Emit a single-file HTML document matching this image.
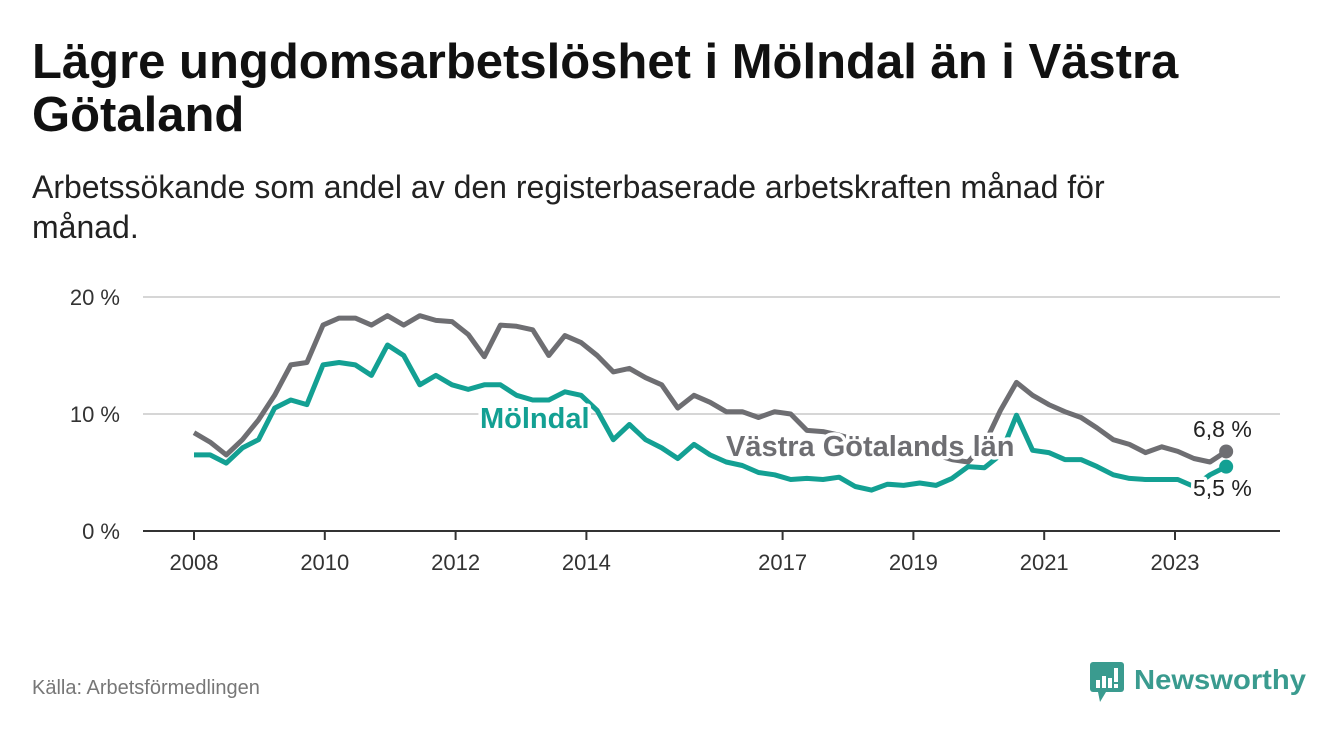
<!DOCTYPE html>
<html><head><meta charset="utf-8"><style>
body{margin:0;background:#fff;font-family:"Liberation Sans",sans-serif;}
#wrap{position:relative;width:1340px;height:734px;overflow:hidden;}
h1{position:absolute;left:32px;top:36px;margin:0;font-size:49px;line-height:53px;font-weight:bold;color:#111;width:1220px;}
.sub{position:absolute;left:32px;top:167px;font-size:32px;line-height:40px;color:#222;width:1170px;}
.src{position:absolute;left:32px;top:677px;font-size:20px;color:#777;}
.logo{position:absolute;left:1088px;top:660px;}
</style></head><body><div id="wrap">
<h1>Lägre ungdomsarbetslöshet i Mölndal än i Västra Götaland</h1>
<div class="sub">Arbetssökande som andel av den registerbaserade arbetskraften månad för månad.</div>
<svg id="chart" width="1340" height="734" style="position:absolute;left:0;top:0"></svg>
<div class="src">Källa: Arbetsförmedlingen</div>
<div class="logo">
<svg width="240" height="46"><rect x="2" y="2" width="34" height="30" rx="3" fill="#3a9b8f"/><polygon points="10,32 18,32 12,42" fill="#3a9b8f"/>
<rect x="8" y="20" width="4" height="8" fill="#fff"/><rect x="14" y="16" width="4" height="12" fill="#fff"/><rect x="20" y="18" width="4" height="10" fill="#fff"/><rect x="26" y="8" width="4" height="14" fill="#fff"/><rect x="26" y="24" width="4" height="4" fill="#fff"/>
<text x="46" y="29" font-size="28" font-family="Liberation Sans" fill="#3a9b8f" font-weight="bold" textLength="172" lengthAdjust="spacingAndGlyphs">Newsworthy</text></svg></div>
</div>
<script>
const yearTicks=[2008,2010,2012,2014,2017,2019,2021,2023];
const yTicks=[0,10,20];
const startYear=2008, stepYears=0.2466;
const vgValues=[8.4,7.6,6.5,7.8,9.5,11.6,14.2,14.4,17.6,18.2,18.2,17.6,18.4,17.6,18.4,18.0,17.9,16.8,14.9,17.6,17.5,17.2,15.0,16.7,16.1,15.0,13.6,13.9,13.1,12.5,10.5,11.6,11.0,10.2,10.2,9.7,10.2,10.0,8.6,8.5,8.2,7.8,7.4,7.2,7.1,6.9,6.5,6.1,5.9,7.4,10.3,12.7,11.6,10.8,10.2,9.7,8.8,7.8,7.4,6.7,7.2,6.8,6.2,5.9,6.8];
const molValues=[6.5,6.5,5.8,7.1,7.8,10.5,11.2,10.8,14.2,14.4,14.2,13.3,15.9,15.0,12.5,13.3,12.5,12.1,12.5,12.5,11.6,11.2,11.2,11.9,11.6,10.3,7.8,9.1,7.8,7.1,6.2,7.4,6.5,5.9,5.6,5.0,4.8,4.4,4.5,4.4,4.6,3.8,3.5,4.0,3.9,4.1,3.9,4.5,5.5,5.4,6.5,9.9,6.9,6.7,6.1,6.1,5.5,4.8,4.5,4.4,4.4,4.4,3.8,4.8,5.5];
const NS="http://www.w3.org/2000/svg",svg=document.getElementById('chart');
const X=y=>194+(y-2008)*65.4, Y=v=>531-v*11.7;
function mk(t,a){const e=document.createElementNS(NS,t);for(const k in a)e.setAttribute(k,a[k]);svg.appendChild(e);return e;}
yTicks.forEach(v=>{
 if(v>0){const g=mk('line',{x1:143,x2:1280,y1:Y(v),y2:Y(v),stroke:'#d6d6d6','stroke-width':2});
 
 }
 const t=mk('text',{x:120,y:Y(v)+8,'text-anchor':'end','font-size':22,fill:'#333'});t.textContent=v+' %';
 
 
});
const ax=mk('line',{x1:143,x2:1280,y1:531,y2:531,stroke:'#333','stroke-width':2});


yearTicks.forEach(yr=>{
 const l=mk('line',{x1:X(yr),x2:X(yr),y1:531,y2:540,stroke:'#333','stroke-width':2});
 
 
 const t=mk('text',{x:X(yr),y:570,'text-anchor':'middle','font-size':22,fill:'#333'});t.textContent=yr;
 
 
});
function line(vals,col,name){
 const d=vals.map((v,i)=>(i?'L':'M')+X(startYear+i*stepYears).toFixed(1)+','+Y(v).toFixed(1)).join('');
 const p=mk('path',{d:d,fill:'none',stroke:col,'stroke-width':5,'stroke-linejoin':'round'});
 
 
 const n=vals.length-1;
 const c=mk('circle',{cx:X(startYear+n*stepYears),cy:Y(vals[n]),r:7,fill:col});
 
 
}
line(vgValues,'#6e6e72','vastra-gotaland-line');
line(molValues,'#13a093','molndal-line');
function lab(x,y,txt,col,bold,name,size){
 const t=mk('text',{x:x,y:y,'font-size':size,fill:col,'font-weight':bold?'bold':'normal',stroke:'#fff','stroke-width':7,'paint-order':'stroke','stroke-linejoin':'round'});t.textContent=txt;
 
 
}
lab(480,428,'Mölndal','#13a093',true,'molndal-label',29);
lab(726,456,'Västra Götalands län','#6e6e72',true,'vastra-gotaland-label',29);
lab(1193,437,'6,8 %','#222',false,'vg-end-value',23);
lab(1193,496,'5,5 %','#222',false,'molndal-end-value',23);
</script></body></html>
